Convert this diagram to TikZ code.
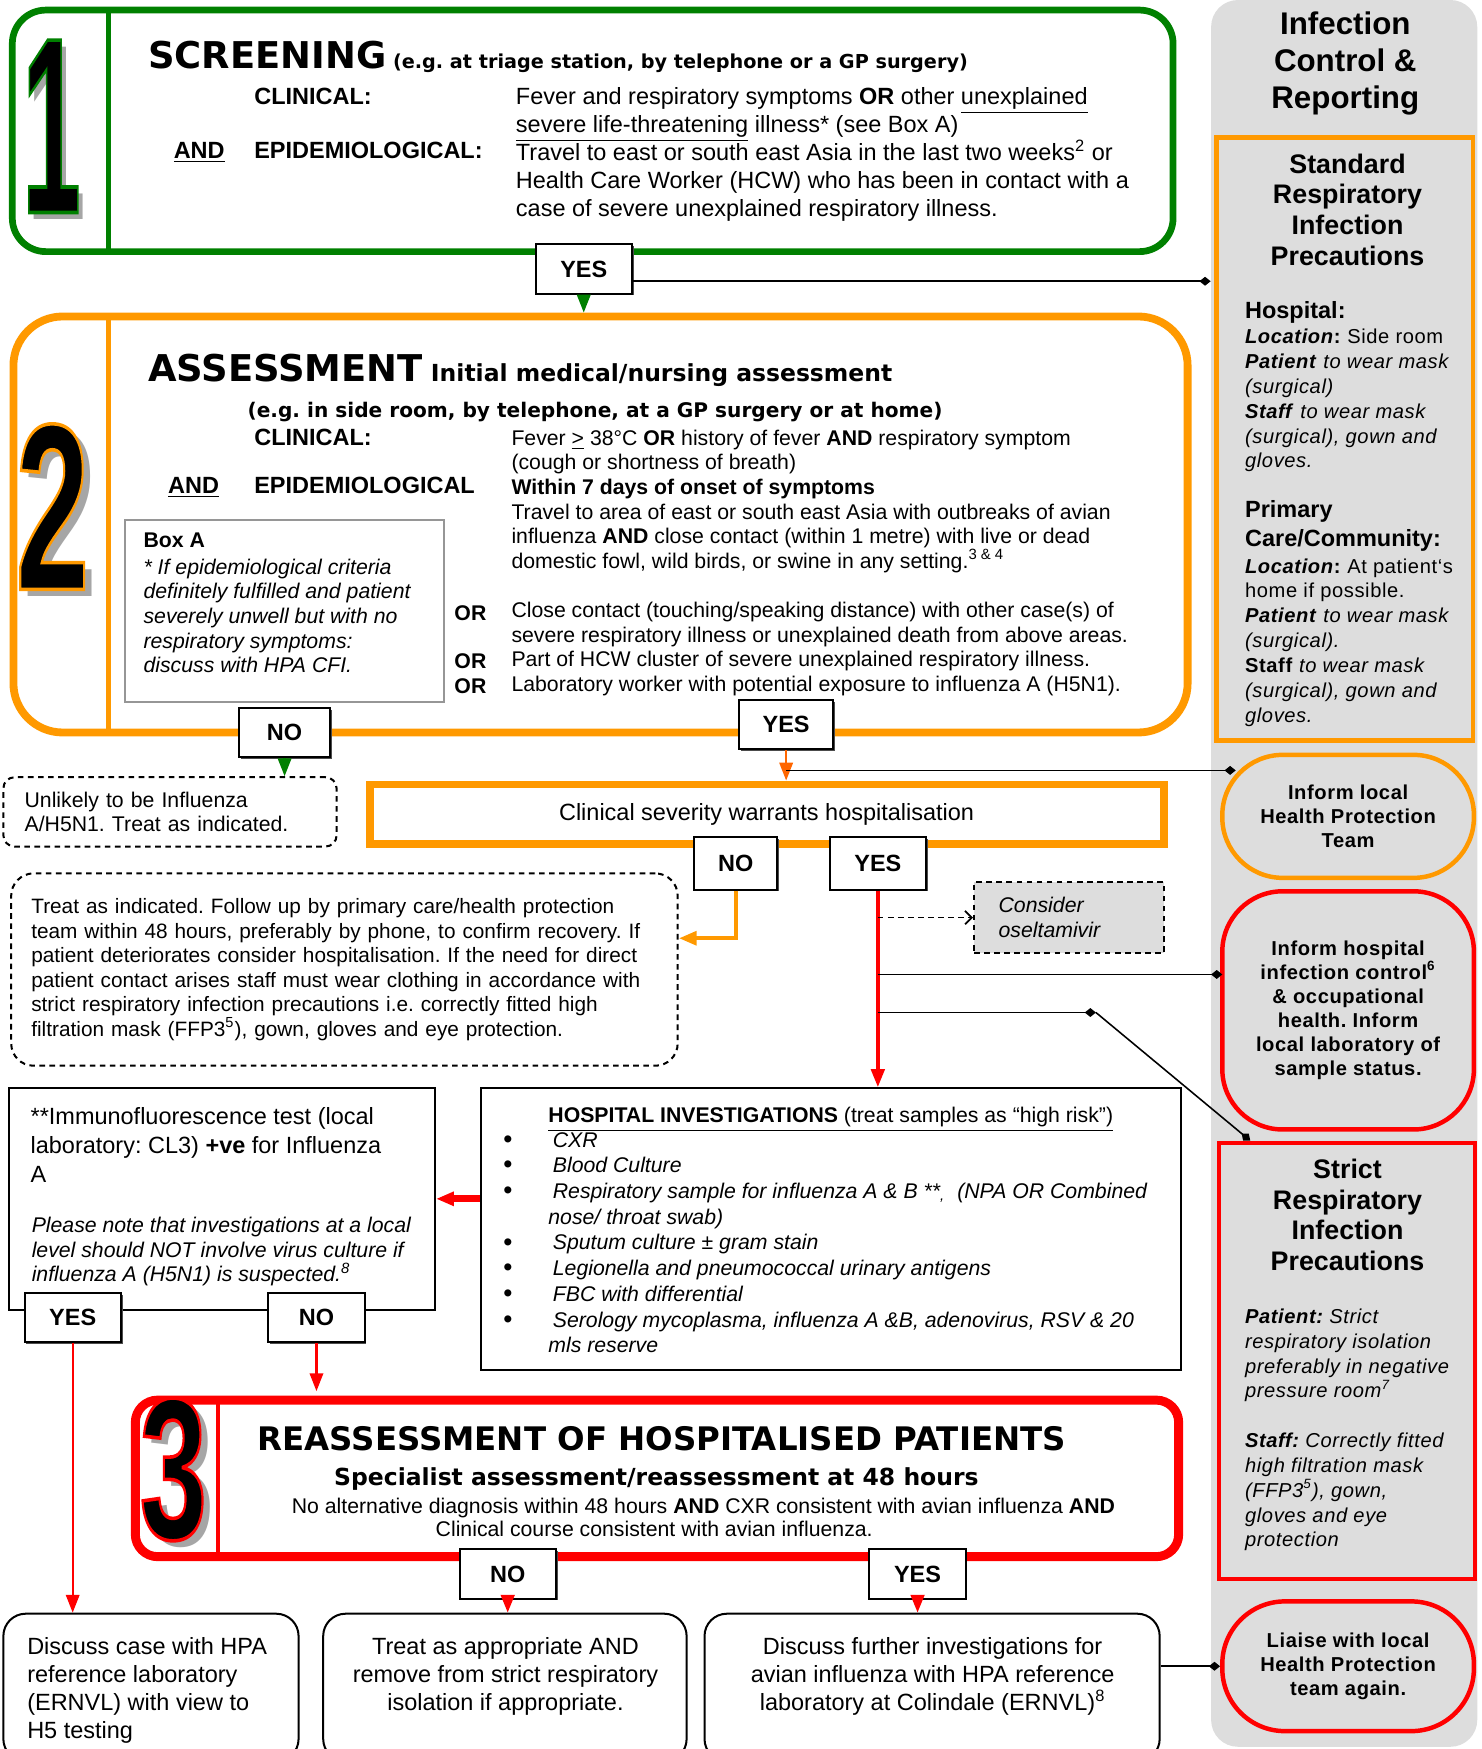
\documentclass[tikz,border=0pt]{standalone}
\usepackage{fontspec}
\setmainfont{Liberation Sans}
\newfontfamily\headfont{DejaVu Sans}
\newfontfamily\panelfont[LetterSpace=3.0]{Liberation Sans}
\usepackage{graphicx}
\usepackage{xcolor}
\definecolor{stagegreen}{RGB}{0,128,0}
\definecolor{stageorange}{RGB}{255,153,0}
\definecolor{arroworange}{RGB}{255,102,0}
\definecolor{stagered}{RGB}{255,0,0}
\definecolor{panelgray}{RGB}{221,221,221}
\definecolor{boxgray}{RGB}{150,150,150}
\usepackage{tikz}
\usetikzlibrary{arrows.meta}
\usetikzlibrary{shadows}
\frenchspacing
\AtBeginDocument{\lineskiplimit=-100pt}
\newcommand{\unitpx}{0.5pt}
\newcommand{\bodytext}{\fontsize{10.5}{12.5}\selectfont}
\newcommand{\smalltext}{\fontsize{9.5}{11}\selectfont}
\newcommand{\paneltext}{\panelfont\fontsize{9}{11.1}\selectfont}
% big stage number: grey shadow, black digit stroked with the stage colour
\newcommand{\rimdigit}[2]{%
    \rlap{\kern6pt\raisebox{-3pt}{\textcolor{black!35}{#2}}}%
    \textcolor{black}{\special{pdf:literal direct #1 RG 2 Tr 1.6 w}#2\special{pdf:literal direct 0 Tr 0 G}}}
\tikzset{
    common/.style={draw, rectangle, inner sep=0pt},
    stage/.style={common, line width=3pt, rounded corners=15pt},
    answer/.style={common, fill=white, line width=0.9pt, minimum width=86*\unitpx, minimum height=44*\unitpx,
        font=\fontsize{10.5}{12}\selectfont\bfseries,
        drop shadow={shadow xshift=0.8pt, shadow yshift=-0.8pt, fill=black!70, opacity=1}},
    txt/.style={anchor=north west, align=left, inner sep=0pt, font=\bodytext},
    heading/.style={anchor=base west, inner sep=0pt, font=\bodytext\bfseries},
    dashbox/.style={common, dash pattern=on 2.5pt off 2pt, line width=0.9pt, rounded corners=5pt, align=left, font=\smalltext},
    endbox/.style={common, line width=0.9pt, rounded corners=10pt},
    panelbox/.style={common, line width=2pt, minimum width=229*\unitpx},
    pill/.style={common, line width=2pt, fill=panelgray, minimum width=225*\unitpx, align=center,
        font=\panelfont\fontsize{9}{10.8}\selectfont\bfseries},
    flow/.style={-{Triangle[length=8pt, width=6pt]}},
    greenflow/.style={flow, stagegreen, line width=1pt},
    orangeflow/.style={flow, arroworange, line width=1pt},
    redflow/.style={flow, stagered, line width=1.5pt},
    dashflow/.style={-{Straight Barb[length=3pt, width=6pt]}, dash pattern=on 2.5pt off 2pt, line width=0.8pt},
    tap/.style={-{Diamond[length=5pt, width=4pt]}, line width=0.7pt},
    digit/.style={inner sep=0pt, font=\bfseries}
}

\begin{document}
\begin{tikzpicture}[x=\unitpx, y=-\unitpx]
    \useasboundingbox (0,0) rectangle (1325,1564);

    % infection control column
    \node[common, draw=none, fill=panelgray, rounded corners=12pt, minimum width=238*\unitpx, minimum height=1562*\unitpx] (panel) at (1202,781) {};
    \node[anchor=north, align=center, inner sep=0pt, font=\fontsize{14}{16.5}\selectfont\bfseries] (paneltitle) at (1203,10) {Infection\\Control \&\\Reporting};

    \node[panelbox, draw=stageorange, minimum height=539*\unitpx] (stdbox) at (1202.5,392.5) {};
    \node[anchor=north, align=center, inner sep=0pt, font=\fontsize{12}{13.7}\selectfont\bfseries] (stdtitle) at (1205,137) {Standard\\Respiratory\\Infection\\Precautions};
    \node[heading, font=\fontsize{10.5}{13}\selectfont\bfseries] (hosphead) at (1113,285) {Hospital:};
    \node[txt, font=\paneltext] (hospbody) at (1113,294) {\textbf{\textit{Location}:} Side room\\\textbf{\textit{Patient}} \textit{to wear mask}\\\textit{(surgical)}\\\textbf{\textit{Staff}} \textit{to wear mask}\\\textit{(surgical), gown and}\\\textit{gloves.}};
    \node[txt, font=\fontsize{10.5}{13}\selectfont\bfseries] (primhead) at (1113,447) {Primary\\Care/Community:};
    \node[txt, font=\paneltext] (primbody) at (1113,499) {\textbf{\textit{Location}:} At patient‘s\\home if possible.\\\textbf{\textit{Patient}} \textit{to wear mask}\\\textit{(surgical).}\\\textbf{Staff} \textit{to wear mask}\\\textit{(surgical), gown and}\\\textit{gloves.}};

    \node[pill, draw=stageorange, minimum height=110*\unitpx, rounded corners=27pt] (informHPT) at (1205.5,730) {Inform local\\Health Protection\\Team};
    \node[pill, draw=stagered, minimum height=213*\unitpx, rounded corners=27pt] (informHIC) at (1205.5,903.5) {Inform hospital\\infection control\textsuperscript{6}\\\& occupational\\health. Inform\\local laboratory of\\sample status.};

    \node[panelbox, draw=stagered, minimum height=390*\unitpx] (strict) at (1204.5,1217) {};
    \node[anchor=north, align=center, inner sep=0pt, font=\fontsize{12}{13.7}\selectfont\bfseries] (stricttitle) at (1205,1036) {Strict\\Respiratory\\Infection\\Precautions};
    \node[txt, font=\paneltext\itshape] (strictpatient) at (1113,1170) {\textbf{Patient:} Strict\\respiratory isolation\\preferably in negative\\pressure room\textsuperscript{7}};
    \node[txt, font=\paneltext\itshape] (strictstaff) at (1113,1281) {\textbf{Staff:} Correctly fitted\\high filtration mask\\(FFP3\textsuperscript{5}), gown,\\gloves and eye\\protection};

    \node[pill, draw=stagered, minimum height=116*\unitpx, rounded corners=28pt] (liaise) at (1205.5,1490) {Liaise with local\\Health Protection\\team again.};

    % stage 1: screening
    \node[stage, draw=stagegreen, minimum width=1038*\unitpx, minimum height=216*\unitpx] (screen) at (530,117) {};
    \draw[stagegreen, line width=2pt] (97,9) -- (97,225);
    \node[digit] (num1) at (46,116) {\fontsize{112}{112}\selectfont\scalebox{0.42}[1]{\rimdigit{0 0.5 0}{1}}};
    \node[anchor=base west, inner sep=0pt, font=\headfont\bfseries] (screenhead) at (132,61) {\fontsize{16.5}{18}\selectfont SCREENING\fontsize{8.6}{10}\selectfont\ (e.g. at triage station, by telephone or a GP surgery)};
    \node[heading] (clin1) at (227,93) {CLINICAL:};
    \node[heading] (and1) at (155,142) {\underline{AND}};
    \node[heading] (epi1) at (227,142) {EPIDEMIOLOGICAL:};
    \node[txt] (screentext) at (461,78) {Fever and respiratory symptoms \textbf{OR} other \underline{unexplained}\\
        \underline{severe life-threatening} illness* (see Box A)\\
        Travel to east or south east Asia in the last two weeks\textsuperscript{2} or\\
        Health Care Worker (HCW) who has been in contact with a\\
        case of severe unexplained respiratory illness.};

    % stage 2: assessment
    \node[stage, draw=stageorange, line width=3.5pt, rounded corners=22pt, minimum width=1050*\unitpx, minimum height=372*\unitpx] (assess) at (537,469) {};
    \draw[stageorange, line width=2pt] (97,283) -- (97,655);
    \node[digit] (num2) at (47,456) {\fontsize{106}{106}\selectfont\scalebox{0.56}[1]{\rimdigit{1 0.6 0}{2}}};
    \node[anchor=base west, inner sep=0pt, font=\headfont\bfseries] (assesshead) at (132,341) {\fontsize{16.5}{18}\selectfont ASSESSMENT\fontsize{10.5}{12}\selectfont\ Initial medical/nursing assessment};
    \node[anchor=base west, inner sep=0pt, font=\headfont\bfseries\fontsize{9}{11}\selectfont] (assesswhere) at (221,373) {(e.g. in side room, by telephone, at a GP surgery or at home)};
    \node[heading] (clin2) at (227,398) {CLINICAL:};
    \node[heading] (and2) at (150,441) {\underline{AND}};
    \node[heading] (epi2) at (227,441) {EPIDEMIOLOGICAL};
    \node[txt, font=\smalltext] (assesstext) at (457,384) {Fever \underline{>} 38°C \textbf{OR} history of fever \textbf{AND} respiratory symptom\\
        (cough or shortness of breath)\\
        \textbf{Within 7 days of onset of symptoms}\\
        Travel to area of east or south east Asia with outbreaks of avian\\
        influenza \textbf{AND} close contact (within 1 metre) with live or dead\\
        domestic fowl, wild birds, or swine in any setting.\textsuperscript{3 \& 4}};
    \node[txt, font=\smalltext] (contacttext) at (457,538) {Close contact (touching/speaking distance) with other case(s) of\\
        severe respiratory illness or unexplained death from above areas.\\
        Part of HCW cluster of severe unexplained respiratory illness.\\
        Laboratory worker with potential exposure to influenza A (H5N1).};
    \node[heading, font=\smalltext\bfseries] (or1) at (406,555) {OR};
    \node[heading, font=\smalltext\bfseries] (or2) at (406,598) {OR};
    \node[heading, font=\smalltext\bfseries] (or3) at (406,620) {OR};
    \node[common, draw=boxgray, line width=1pt, fill=white, minimum width=285*\unitpx, minimum height=163*\unitpx] (boxA) at (254.5,546.5) {};
    \node[txt, font=\smalltext] (boxAtext) at (128,476) {\textbf{Box A}\\[1pt]\textit{* If epidemiological criteria}\\\textit{definitely fulfilled and patient}\\\textit{severely unwell but with no}\\\textit{respiratory symptoms:}\\\textit{discuss with HPA CFI.}};

    % hospitalisation decision
    \node[dashbox, minimum width=298*\unitpx, minimum height=62*\unitpx, text width=130pt] (unlikely) at (152,726) {Unlikely to be Influenza\\A/H5N1. Treat as indicated.};
    \node[common, draw=stageorange, line width=3.5pt, minimum width=710*\unitpx, minimum height=53*\unitpx, font=\bodytext] (severity) at (685.5,728) {Clinical severity warrants hospitalisation};
    \node[dashbox, rounded corners=10pt, minimum width=596*\unitpx, minimum height=172*\unitpx, text width=280pt, font=\fontsize{9.3}{11}\selectfont] (treat) at (308,867) {Treat as indicated. Follow up by primary care/health protection\\
        team within 48 hours, preferably by phone, to confirm recovery. If\\
        patient deteriorates consider hospitalisation. If the need for direct\\
        patient contact arises staff must wear clothing in accordance with\\
        strict respiratory infection precautions i.e. correctly fitted high\\
        filtration mask (FFP3\textsuperscript{5}), gown, gloves and eye protection.};
    \node[dashbox, rounded corners=0pt, fill=panelgray, minimum width=170*\unitpx, minimum height=63*\unitpx, text width=63pt, font=\smalltext\itshape] (consider) at (956,820.5) {Consider\\oseltamivir};

    % investigations
    \node[common, line width=0.9pt, minimum width=381*\unitpx, minimum height=198*\unitpx] (immuno) at (198.5,1072) {};
    \node[txt, font=\fontsize{10.5}{13}\selectfont] (immunotext) at (27,990) {**Immunofluorescence test (local\\laboratory: CL3) \textbf{+ve} for Influenza\\A};
    \node[txt, font=\smalltext\itshape] (immunonote) at (28,1088) {Please note that investigations at a local\\level should NOT involve virus culture if\\influenza A (H5N1) is suspected.\textsuperscript{8}};

    \node[common, line width=0.9pt, minimum width=626*\unitpx, minimum height=252*\unitpx] (hospinv) at (743,1099) {};
    \node[txt, font=\smalltext] (hosptitle) at (490,990) {\underline{\textbf{HOSPITAL INVESTIGATIONS}\ (treat samples as “high risk”)}};
    \node[txt, font=\fontsize{11}{11.5}\selectfont\bfseries] (bullets) at (450,1015) {•\\•\\•\\\mbox{}\\•\\•\\•\\•};
    \node[txt, font=\fontsize{9.5}{11.5}\selectfont\itshape] (hospitems) at (494,1012) {CXR\\Blood Culture\\Respiratory sample for influenza A \& B **\textsubscript{,}\ \ (NPA OR Combined\\\hspace{-2pt}nose/ throat swab)\\Sputum culture ± gram stain\\Legionella and pneumococcal urinary antigens\\FBC with differential\\Serology mycoplasma, influenza A \&B, adenovirus, RSV \& 20\\\hspace{-2pt}mls reserve};

    % stage 3: reassessment
    \node[stage, draw=stagered, line width=4pt, rounded corners=10pt, minimum width=933*\unitpx, minimum height=140*\unitpx] (reassess) at (587.5,1322) {};
    \draw[stagered, line width=2pt] (195,1252) -- (195,1392);
    \node[digit] (num3) at (155,1317) {\fontsize{90}{90}\selectfont\scalebox{0.6}[1]{\rimdigit{1 0 0}{3}}};
    \node[anchor=base west, inner sep=0pt, font=\headfont\bfseries\fontsize{14.5}{16}\selectfont] (reassesshead) at (230,1297) {REASSESSMENT OF HOSPITALISED PATIENTS};
    \node[anchor=base, inner sep=0pt, font=\headfont\bfseries\fontsize{10.5}{12}\selectfont] (specialist) at (587,1328) {Specialist assessment/reassessment at 48 hours};
    \node[anchor=base, inner sep=0pt, font=\smalltext] (criteria1) at (629,1353) {No alternative diagnosis within 48 hours \textbf{AND} CXR consistent with avian influenza \textbf{AND}};
    \node[anchor=base, inner sep=0pt, font=\smalltext] (criteria2) at (585,1374) {Clinical course consistent with avian influenza.};

    % outcomes
    \node[endbox, minimum width=264*\unitpx, minimum height=132*\unitpx] (b1) at (135,1509) {};
    \node[endbox, minimum width=325*\unitpx, minimum height=132*\unitpx] (b2) at (451.5,1509) {};
    \node[endbox, minimum width=407*\unitpx, minimum height=132*\unitpx] (b3) at (833.5,1509) {};
    \node[txt] (b1text) at (24,1464) {Discuss case with HPA\\reference laboratory\\(ERNVL) with view to\\H5 testing};
    \node[txt, anchor=north, align=center] (b2text) at (452,1464) {Treat as appropriate AND\\remove from strict respiratory\\isolation if appropriate.};
    \node[txt, anchor=north, align=center] (b3text) at (834,1464) {Discuss further investigations for\\avian influenza with HPA reference\\laboratory at Colindale (ERNVL)\textsuperscript{8}};

    % yes / no answers
    \node[answer] (yes1) at (522,240.5) {YES};
    \node[answer, minimum width=81*\unitpx] (no2) at (254.5,655) {NO};
    \node[answer, minimum width=84*\unitpx] (yes2) at (703,648) {YES};
    \node[answer, minimum width=74*\unitpx, minimum height=47*\unitpx] (no3) at (658,772) {NO};
    \node[answer, minimum height=47*\unitpx] (yes3) at (785,772) {YES};
    \node[answer] (yesIF) at (65,1178) {YES};
    \node[answer] (noIF) at (283,1178) {NO};
    \node[answer] (no4) at (454,1407.5) {NO};
    \node[answer] (yes4) at (820.5,1407.5) {YES};

    % connectors
    \path (yes2.south) ++(0,18) coordinate (hpttap);
    \path (yes3.south) ++(0,75) coordinate (hictap);
    \path (yes3.south) ++(0,109) coordinate (strtap);
    \path (strtap) ++(195,0) coordinate (strbend);

    \draw[greenflow] (yes1.south) -- (yes1.south |- assess.north);
    \draw[greenflow] (no2.south) -- (no2.south |- unlikely.north);
    \draw[orangeflow] (yes2.south) -- (yes2.south |- severity.north);
    \draw[orangeflow, stageorange, line width=2pt] (no3.south) |- ([yshift=14pt]treat.east);
    \draw[redflow] (yes3.south) -- (yes3.south |- hospinv.north);
    \draw[dashflow] (yes3.south |- consider.west) -- (consider.west);
    \draw[redflow, line width=3pt] (hospinv.west |- immuno.east) -- (immuno.east);
    \draw[redflow, line width=1pt] (yesIF.south) -- (yesIF.south |- b1.north);
    \draw[redflow, line width=1pt, shorten >=2pt] (noIF.south) -- (noIF.south |- reassess.north);
    \draw[redflow] (no4.south) -- (no4.south |- b2.north);
    \draw[redflow] (yes4.south) -- (yes4.south |- b3.north);

    \draw[tap] ([yshift=-5.5pt]yes1.east) -- ([yshift=-5.5pt]yes1.east -| panel.west);
    \draw[tap] (hpttap) -- ([xshift=7pt]hpttap -| informHPT.west);
    \draw[tap] (hictap) -- ([xshift=1pt]hictap -| informHIC.west);
    \draw[tap] (strtap) -- (strbend);
    \draw[tap] (strbend) -- ([xshift=15pt]strict.north west);
    \draw[tap] (b3.east |- liaise.west) -- (liaise.west);
\end{tikzpicture}
\end{document}
